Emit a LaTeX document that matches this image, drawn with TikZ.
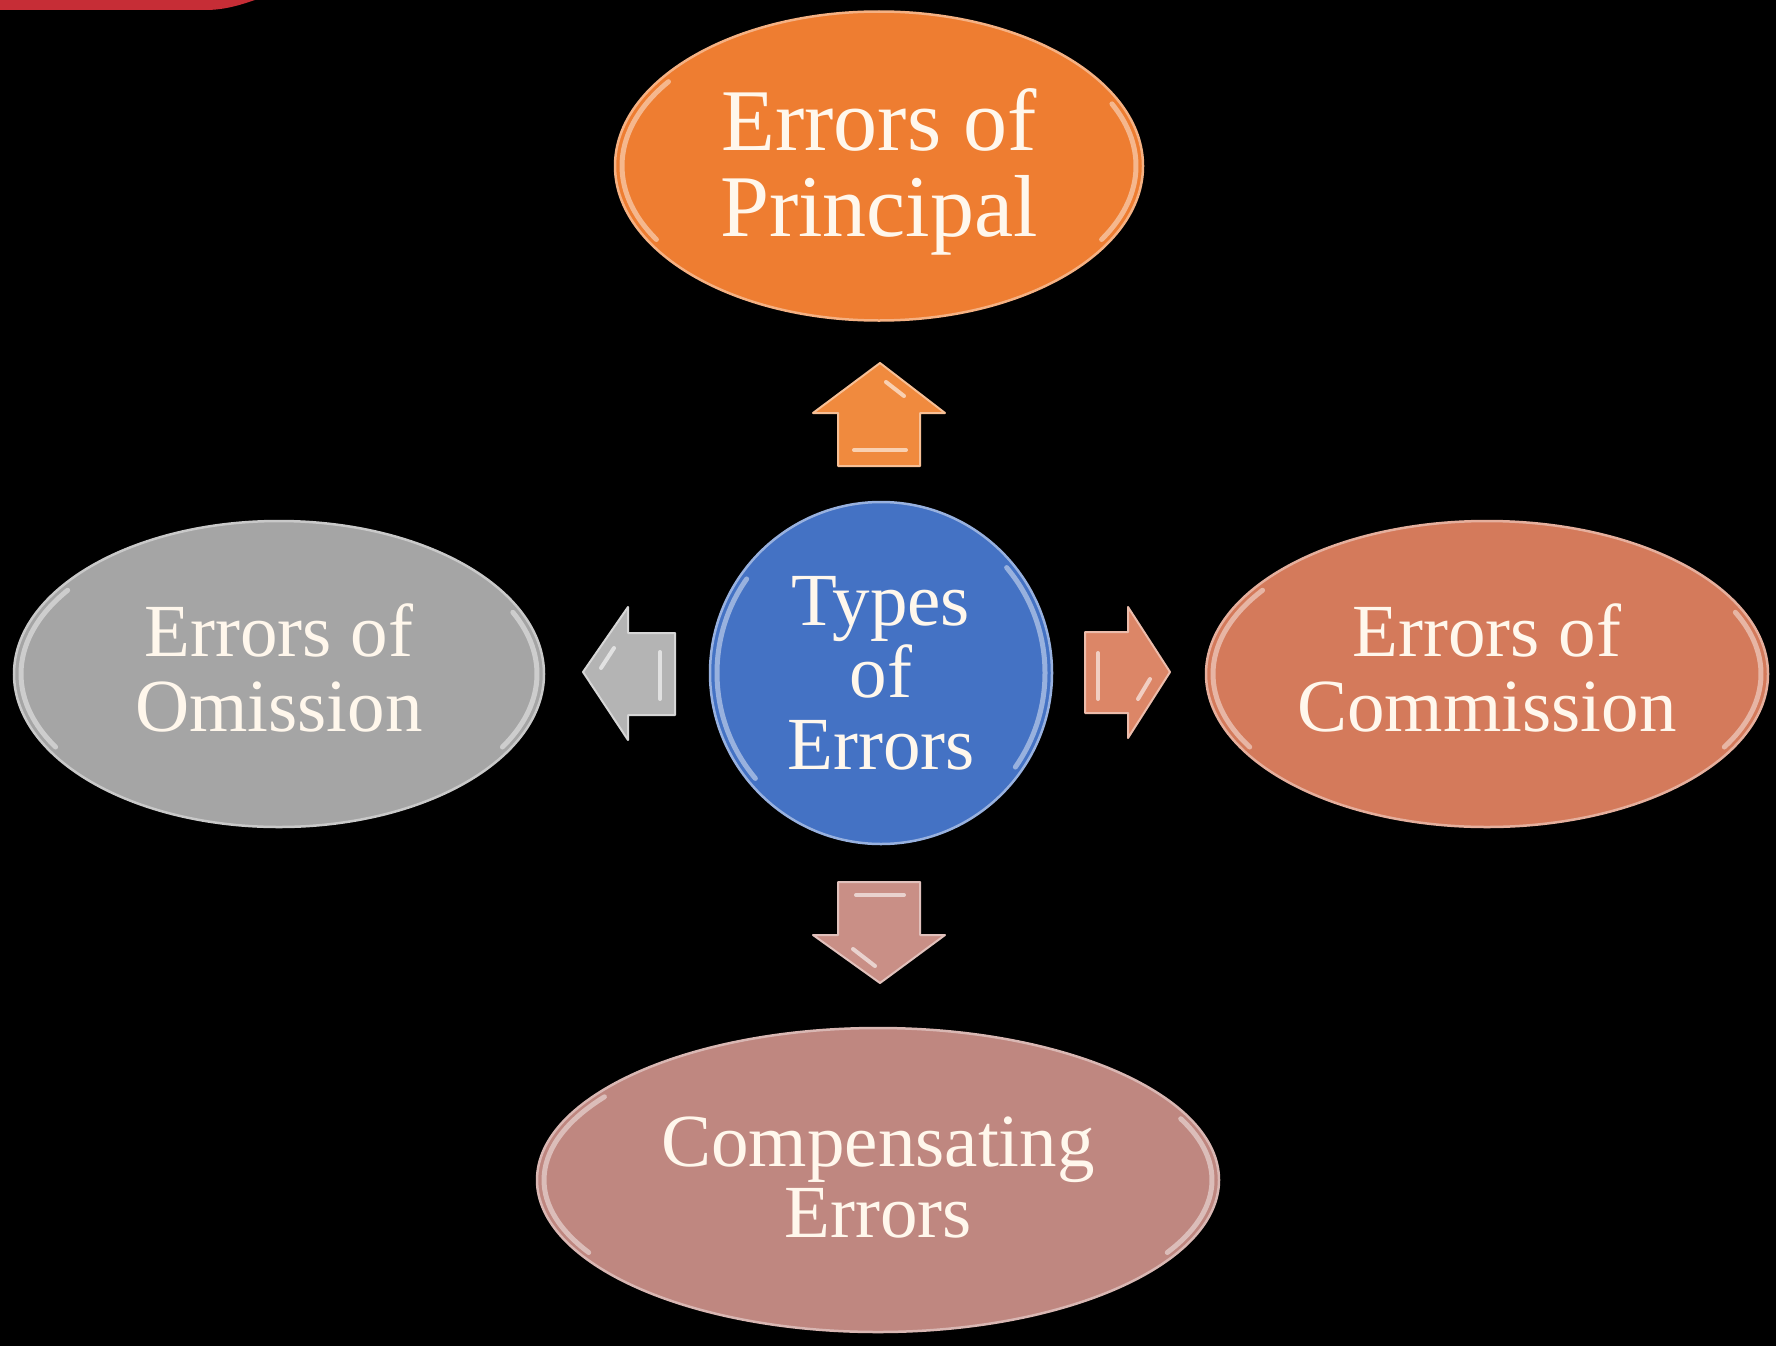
\documentclass[tikz,border=0pt]{standalone}
\usepackage{fontspec}
\setmainfont{Liberation Serif}
\usetikzlibrary{shapes.geometric}

\definecolor{cOrange}{HTML}{EE7D31}
\definecolor{cGray}{HTML}{A5A5A5}
\definecolor{cTerra}{HTML}{D47A5B}
\definecolor{cRose}{HTML}{BF8780}
\definecolor{cBlue}{HTML}{4472C4}
\definecolor{aOrange}{HTML}{F08A3E}
\definecolor{aGray}{HTML}{B4B4B4}
\definecolor{aTerra}{HTML}{DC8667}
\definecolor{aRose}{HTML}{C98F86}
\definecolor{txt}{HTML}{FFF7EC}
\definecolor{barRed}{HTML}{C62D36}

\tikzset{
  blob/.style={ellipse, inner sep=0pt, draw=#1!60!white, line width=2.5pt, fill=#1},
  lbl/.style={text=txt, align=center, inner sep=0pt},
  rim/.style={draw=white, line width=5pt, line cap=round, opacity=0.45},
  blockarrow/.style={fill=#1, draw=#1!55!white, line width=2pt, line join=round},
  shine/.style={draw=white, line width=4pt, line cap=round, opacity=0.6}
}

\begin{document}
\begin{tikzpicture}[x=1pt, y=-1pt]
  \useasboundingbox (0,0) rectangle (1776,1346);
  \fill[black] (0,0) rectangle (1776,1346);

  % red tab in the upper left corner
  \fill[barRed] (0,0) -- (255,0) .. controls (240,5) and (225,10) .. (205,10) -- (0,10) -- cycle;

  % outer ellipses
  \node[blob=cOrange, minimum width=528pt, minimum height=309pt] (principal) at (879,166) {};
  \node[blob=cGray, minimum width=530pt, minimum height=306pt] (omission) at (279,674) {};
  \node[blob=cTerra, minimum width=562pt, minimum height=306pt] (commission) at (1487,674) {};
  \node[blob=cRose, minimum width=682pt, minimum height=304pt] (compensating) at (878,1180) {};
  % central circle
  \node[circle, inner sep=0pt, minimum size=342pt, fill=cBlue, draw=cBlue!55!white, line width=2.5pt] (types) at (881,673) {};

  % glossy rims on the ellipses
  \begin{scope}[shift={(principal.center)}]
    \draw[rim] (150:257 and 147) arc[start angle=150, end angle=215, x radius=257, y radius=147];
    \draw[rim] (-25:257 and 147) arc[start angle=-25, end angle=30, x radius=257, y radius=147];
  \end{scope}
  \begin{scope}[shift={(omission.center)}]
    \draw[rim] (150:258 and 146) arc[start angle=150, end angle=215, x radius=258, y radius=146];
    \draw[rim] (-25:258 and 146) arc[start angle=-25, end angle=30, x radius=258, y radius=146];
  \end{scope}
  \begin{scope}[shift={(commission.center)}]
    \draw[rim] (150:274 and 146) arc[start angle=150, end angle=215, x radius=274, y radius=146];
    \draw[rim] (-25:274 and 146) arc[start angle=-25, end angle=30, x radius=274, y radius=146];
  \end{scope}
  \begin{scope}[shift={(compensating.center)}]
    \draw[rim] (150:334 and 145) arc[start angle=150, end angle=215, x radius=334, y radius=145];
    \draw[rim] (-25:334 and 145) arc[start angle=-25, end angle=30, x radius=334, y radius=145];
  \end{scope}
  \begin{scope}[shift={(types.center)}]
    \draw[rim] (140:164) arc[start angle=140, end angle=215, radius=164];
    \draw[rim] (-40:164) arc[start angle=-40, end angle=35, radius=164];
  \end{scope}

  % labels
  \node[lbl, font=\fontsize{88}{86}\selectfont, yshift=-6pt] (principalT) at (principal.center) {Errors of\\Principal};
  \node[lbl, font=\fontsize{75}{75}\selectfont, yshift=6pt] (omissionT) at (omission.center) {Errors of\\Omission};
  \node[lbl, font=\fontsize{75}{75}\selectfont, yshift=6pt] (commissionT) at (commission.center) {Errors of\\Commission};
  \node[lbl, font=\fontsize{75}{71}\selectfont, yshift=2pt] (compensatingT) at (compensating.center) {Compensating\\Errors};
  \node[lbl, font=\fontsize{75}{72}\selectfont] (typesT) at (types.center) {Types\\of\\Errors};

  % block arrows pointing outwards from the centre
  \draw[blockarrow=aOrange] (838,466) -- (838,413) -- (813,413) -- (880,363) -- (945,413) -- (920,413) -- (920,466) -- cycle;
  \draw[shine] (886,382) -- (904,396);
  \draw[shine] (854,450) -- (906,450);

  \draw[blockarrow=aGray] (675,633) -- (628,633) -- (628,607) -- (583,672) -- (628,740) -- (628,715) -- (675,715) -- cycle;
  \draw[shine] (614,648) -- (601,668);
  \draw[shine] (660,652) -- (660,699);

  \draw[blockarrow=aTerra] (1085,632) -- (1128,632) -- (1128,607) -- (1170,672) -- (1128,738) -- (1128,713) -- (1085,713) -- cycle;
  \draw[shine] (1098,653) -- (1098,699);
  \draw[shine] (1150,679) -- (1138,699);

  \draw[blockarrow=aRose] (838,882) -- (920,882) -- (920,935) -- (945,935) -- (880,983) -- (813,935) -- (838,935) -- cycle;
  \draw[shine] (856,895) -- (904,895);
  \draw[shine] (853,949) -- (875,966);
\end{tikzpicture}
\end{document}
